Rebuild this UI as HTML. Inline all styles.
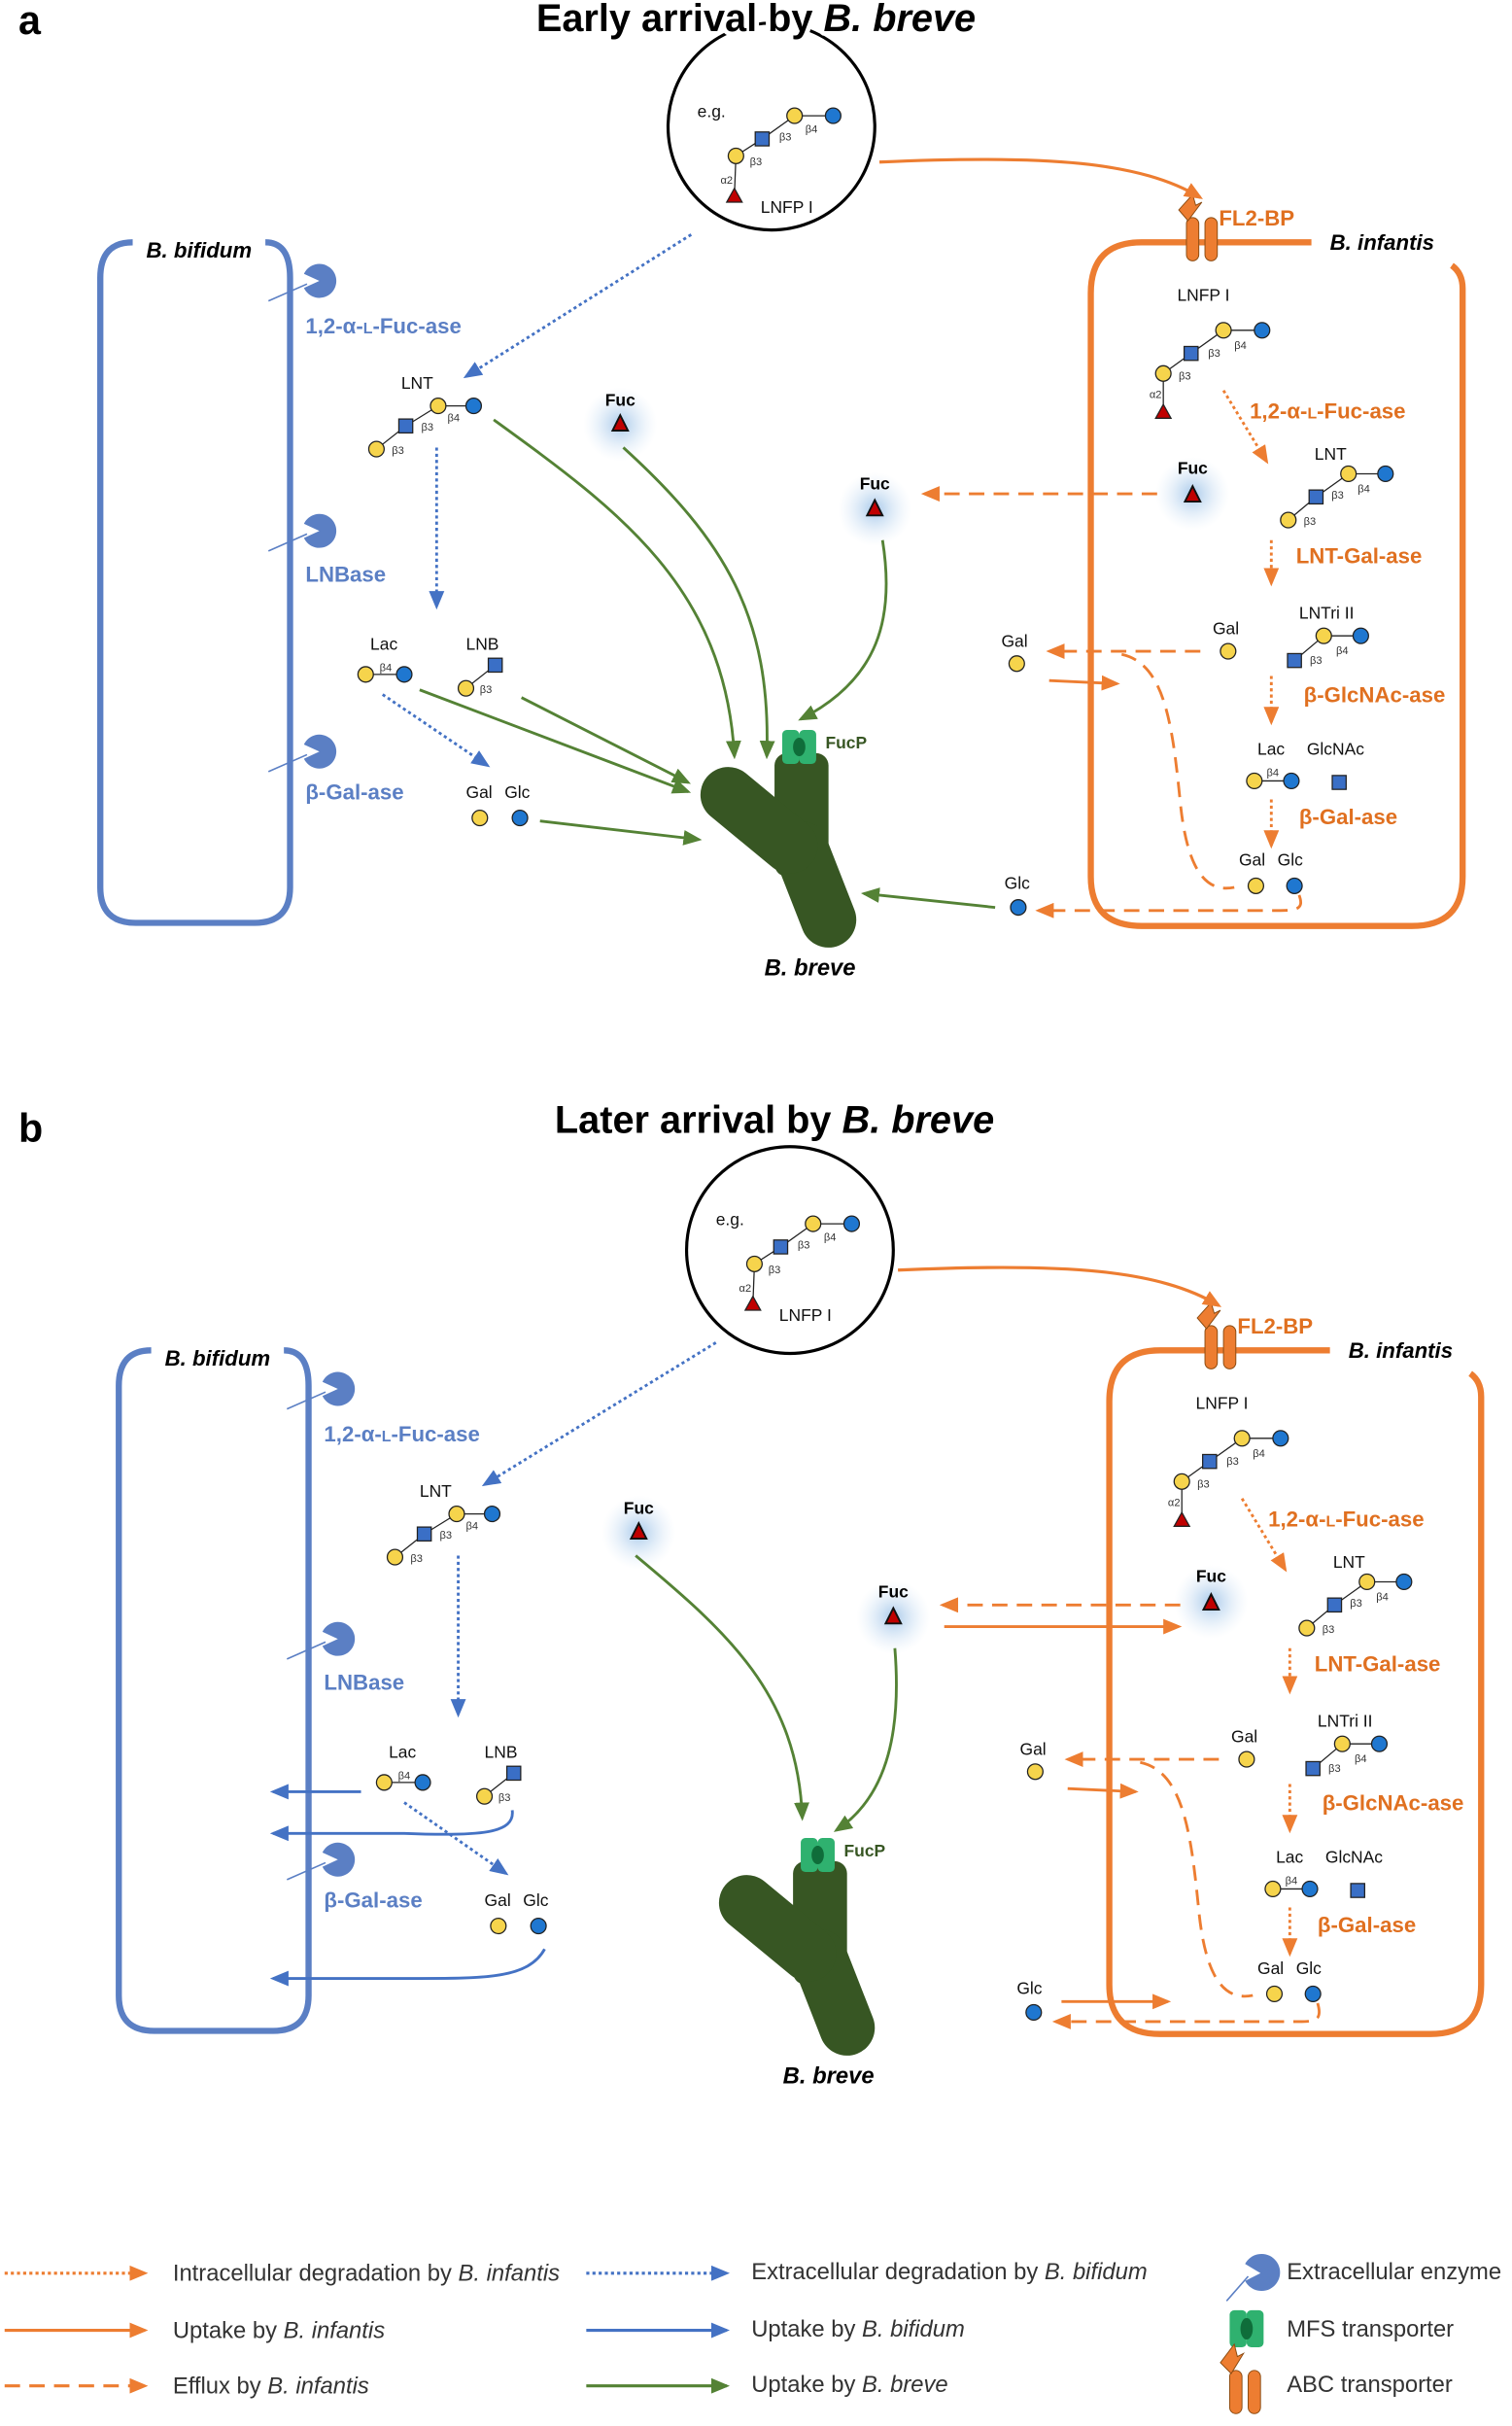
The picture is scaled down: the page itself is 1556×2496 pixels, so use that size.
<!DOCTYPE html>
<html><head><meta charset="utf-8"><style>
html,body{margin:0;padding:0;background:#fff}
svg{display:block}
text{font-family:"Liberation Sans",sans-serif}
.g{font-size:11px;fill:#111}
.b{font-size:7px;fill:#333}
.eb{font-size:14px;font-weight:bold;fill:#5b7fc4}
.eo{font-size:14px;font-weight:bold;fill:#e07020}
.lg{font-size:15px;fill:#333}
.tt{paint-order:stroke;stroke:#fff;stroke-width:6px;stroke-linejoin:round}
</style></head><body>
<svg width="1556" height="2496" viewBox="0 0 980 1572" xmlns="http://www.w3.org/2000/svg">
<defs>
<marker id="mo" markerWidth="12" markerHeight="10" refX="10" refY="5" orient="auto" markerUnits="userSpaceOnUse"><path d="M0,0 L12,5 L0,10 Z" fill="#ed7d31"/></marker>
<marker id="mb" markerWidth="12" markerHeight="10" refX="10" refY="5" orient="auto" markerUnits="userSpaceOnUse"><path d="M0,0 L12,5 L0,10 Z" fill="#4472c4"/></marker>
<marker id="mg" markerWidth="12" markerHeight="10" refX="10" refY="5" orient="auto" markerUnits="userSpaceOnUse"><path d="M0,0 L12,5 L0,10 Z" fill="#548235"/></marker>
<radialGradient id="glow"><stop offset="0" stop-color="#9ec3e8" stop-opacity=".9"/><stop offset="1" stop-color="#dbe9f7" stop-opacity="0"/></radialGradient>
</defs>

<!-- ===================== PANEL A ===================== -->
<g id="pa">
<circle cx="500" cy="82" r="67" fill="#fff" stroke="#000" stroke-width="2"/>
<text x="452" y="76" class="g">e.g.</text>
<g stroke="#222" stroke-width=".8"><line x1="540" y1="75" x2="515" y2="75"/><line x1="515" y1="75" x2="494" y2="90"/><line x1="494" y1="90" x2="477" y2="101"/><line x1="477" y1="101" x2="476" y2="127"/></g>
<circle cx="540" cy="75" r="5" fill="#1f77d0" stroke="#222" stroke-width=".8"/>
<circle cx="515" cy="75" r="5" fill="#f6d44c" stroke="#222" stroke-width=".8"/>
<rect x="489.5" y="85.5" width="9" height="9" fill="#3a6fc6" stroke="#222" stroke-width=".8"/>
<circle cx="477" cy="101" r="5" fill="#f6d44c" stroke="#222" stroke-width=".8"/>
<polygon points="476,122 481,131 471,131" fill="#c00000" stroke="#222" stroke-width=".8"/>
<text x="522" y="86" class="b">β4</text><text x="505" y="91" class="b">β3</text><text x="486" y="107" class="b">β3</text><text x="467" y="119" class="b">α2</text>
<text x="493" y="138" class="g">LNFP I</text>

<path d="M172,157 Q188,157 188,180 L188,575 Q188,598 165,598 L88,598 Q65,598 65,575 L65,180 Q65,157 86,157" fill="none" stroke="#5b7fc4" stroke-width="4"/>
<text x="129" y="167" text-anchor="middle" font-size="14" font-weight="bold" font-style="italic">B. bifidum</text>
<g fill="#5b7fc4">
<path d="M207,182 L197,186.6 A11 11 0 1 0 197,177.4 Z"/>
<path d="M207,344 L197,348.6 A11 11 0 1 0 197,339.4 Z"/>
<path d="M207,487 L197,491.6 A11 11 0 1 0 197,482.4 Z"/>
</g>
<g stroke="#5b7fc4" stroke-width="1"><line x1="199" y1="184" x2="174" y2="195"/><line x1="199" y1="346" x2="174" y2="357"/><line x1="199" y1="489" x2="174" y2="500"/></g>
<text x="198" y="216" class="eb">1,2-α-<tspan font-size="10">L</tspan>-Fuc-ase</text>
<text x="198" y="377" class="eb">LNBase</text>
<text x="198" y="518" class="eb">β-Gal-ase</text>

<text x="260" y="252" class="g">LNT</text>
<g stroke="#222" stroke-width=".8"><line x1="307" y1="263" x2="284" y2="263"/><line x1="284" y1="263" x2="263" y2="276"/><line x1="263" y1="276" x2="244" y2="291"/></g>
<circle cx="307" cy="263" r="5" fill="#1f77d0" stroke="#222" stroke-width=".8"/>
<circle cx="284" cy="263" r="5" fill="#f6d44c" stroke="#222" stroke-width=".8"/>
<rect x="258.5" y="271.5" width="9" height="9" fill="#3a6fc6" stroke="#222" stroke-width=".8"/>
<circle cx="244" cy="291" r="5" fill="#f6d44c" stroke="#222" stroke-width=".8"/>
<text x="290" y="273" class="b">β4</text><text x="273" y="279" class="b">β3</text><text x="254" y="294" class="b">β3</text>
<text x="240" y="421" class="g">Lac</text>
<line x1="237" y1="437" x2="262" y2="437" stroke="#222" stroke-width=".8"/>
<circle cx="237" cy="437" r="5" fill="#f6d44c" stroke="#222" stroke-width=".8"/>
<circle cx="262" cy="437" r="5" fill="#1f77d0" stroke="#222" stroke-width=".8"/>
<text x="246" y="435" class="b">β4</text>
<text x="302" y="421" class="g">LNB</text>
<line x1="321" y1="431" x2="302" y2="446" stroke="#222" stroke-width=".8"/>
<rect x="316.5" y="426.5" width="9" height="9" fill="#3a6fc6" stroke="#222" stroke-width=".8"/>
<circle cx="302" cy="446" r="5" fill="#f6d44c" stroke="#222" stroke-width=".8"/>
<text x="311" y="449" class="b">β3</text>
<text x="302" y="517" class="g">Gal</text><text x="327" y="517" class="g">Glc</text>
<circle cx="311" cy="530" r="5" fill="#f6d44c" stroke="#222" stroke-width=".8"/>
<circle cx="337" cy="530" r="5" fill="#1f77d0" stroke="#222" stroke-width=".8"/>

<g stroke="#4472c4" stroke-width="1.8" stroke-dasharray="2,2" fill="none">
<line x1="448" y1="152" x2="302" y2="244" marker-end="url(#mb)"/>
<line x1="283" y1="290" x2="283" y2="393" marker-end="url(#mb)"/>
<line x1="248" y1="450" x2="316" y2="496" marker-end="url(#mb)"/>
</g>

<circle cx="402" cy="275" r="24" fill="url(#glow)"/>
<circle cx="567" cy="330" r="24" fill="url(#glow)"/>
<circle cx="773" cy="320" r="24" fill="url(#glow)"/>
<text x="402" y="263" text-anchor="middle" font-size="11" font-weight="bold">Fuc</text>
<polygon points="402,269 407,279 397,279" fill="#c00000" stroke="#111" stroke-width="1.2"/>
<text x="567" y="317" text-anchor="middle" font-size="11" font-weight="bold">Fuc</text>
<polygon points="567,324 572,334 562,334" fill="#c00000" stroke="#111" stroke-width="1.2"/>
<text x="773" y="307" text-anchor="middle" font-size="11" font-weight="bold">Fuc</text>
<polygon points="773,315 778,325 768,325" fill="#c00000" stroke="#111" stroke-width="1.2"/>

<g fill="#375623" stroke="#375623" stroke-linecap="round" stroke-linejoin="round">
<rect x="502" y="488" width="35" height="80" rx="8" stroke="none"/>
<path d="M519,550 L537,596" stroke-width="36" fill="none"/>
<path d="M472,515 L512,548" stroke-width="36" fill="none"/>
</g>
<rect x="507" y="473" width="11" height="22" rx="3" fill="#2fb16f"/>
<rect x="518" y="473" width="11" height="22" rx="3" fill="#2fb16f"/>
<ellipse cx="518" cy="484" rx="4" ry="6" fill="#0f6d3a"/>
<text x="535" y="485" font-size="11" font-weight="bold" fill="#375623">FucP</text>
<text x="525" y="632" text-anchor="middle" font-size="15" font-weight="bold" font-style="italic">B. breve</text>

<path d="M850,157 L740,157 Q707,157 707,190 L707,568 Q707,600 740,600 L915,600 Q948,600 948,568 L948,187 Q948,177 941,172" fill="none" stroke="#ed7d31" stroke-width="4"/>
<text x="862" y="162" font-size="14" font-weight="bold" font-style="italic">B. infantis</text>
<rect x="769" y="141" width="8" height="28" rx="4" fill="#ed7d31" stroke="#8a4a10" stroke-width=".6"/>
<rect x="781" y="141" width="8" height="28" rx="4" fill="#ed7d31" stroke="#8a4a10" stroke-width=".6"/>
<path d="M770,143 L764,136 L773,126 L775,133 L779,131 Z" fill="#ed7d31" stroke="#8a4a10" stroke-width=".6"/>
<text x="790" y="146" font-size="14" font-weight="bold" fill="#e07020">FL2-BP</text>
<path d="M570,105 C680,100 740,105 778,128" fill="none" stroke="#ed7d31" stroke-width="2" marker-end="url(#mo)"/>

<text x="763" y="195" class="g">LNFP I</text>
<g stroke="#222" stroke-width=".8"><line x1="818" y1="214" x2="793" y2="214"/><line x1="793" y1="214" x2="772" y2="229"/><line x1="772" y1="229" x2="754" y2="242"/><line x1="754" y1="242" x2="754" y2="266"/></g>
<circle cx="818" cy="214" r="5" fill="#1f77d0" stroke="#222" stroke-width=".8"/>
<circle cx="793" cy="214" r="5" fill="#f6d44c" stroke="#222" stroke-width=".8"/>
<rect x="767.5" y="224.5" width="9" height="9" fill="#3a6fc6" stroke="#222" stroke-width=".8"/>
<circle cx="754" cy="242" r="5" fill="#f6d44c" stroke="#222" stroke-width=".8"/>
<polygon points="754,262 759,271 749,271" fill="#c00000" stroke="#222" stroke-width=".8"/>
<text x="800" y="226" class="b">β4</text><text x="783" y="231" class="b">β3</text><text x="764" y="246" class="b">β3</text><text x="745" y="258" class="b">α2</text>
<text x="810" y="271" class="eo">1,2-α-<tspan font-size="10">L</tspan>-Fuc-ase</text>
<text x="852" y="298" class="g">LNT</text>
<g stroke="#222" stroke-width=".8"><line x1="898" y1="307" x2="874" y2="307"/><line x1="874" y1="307" x2="853" y2="322"/><line x1="853" y1="322" x2="835" y2="337"/></g>
<circle cx="898" cy="307" r="5" fill="#1f77d0" stroke="#222" stroke-width=".8"/>
<circle cx="874" cy="307" r="5" fill="#f6d44c" stroke="#222" stroke-width=".8"/>
<rect x="848.5" y="317.5" width="9" height="9" fill="#3a6fc6" stroke="#222" stroke-width=".8"/>
<circle cx="835" cy="337" r="5" fill="#f6d44c" stroke="#222" stroke-width=".8"/>
<text x="880" y="319" class="b">β4</text><text x="863" y="323" class="b">β3</text><text x="845" y="340" class="b">β3</text>
<text x="840" y="365" class="eo">LNT-Gal-ase</text>
<text x="786" y="411" class="g">Gal</text>
<circle cx="796" cy="422" r="5" fill="#f6d44c" stroke="#222" stroke-width=".8"/>
<text x="842" y="401" class="g">LNTri II</text>
<g stroke="#222" stroke-width=".8"><line x1="882" y1="412" x2="858" y2="412"/><line x1="858" y1="412" x2="839" y2="428"/></g>
<circle cx="882" cy="412" r="5" fill="#1f77d0" stroke="#222" stroke-width=".8"/>
<circle cx="858" cy="412" r="5" fill="#f6d44c" stroke="#222" stroke-width=".8"/>
<rect x="834.5" y="423.5" width="9" height="9" fill="#3a6fc6" stroke="#222" stroke-width=".8"/>
<text x="866" y="424" class="b">β4</text><text x="849" y="430" class="b">β3</text>
<text x="845" y="455" class="eo">β-GlcNAc-ase</text>
<text x="815" y="489" class="g">Lac</text><text x="847" y="489" class="g">GlcNAc</text>
<line x1="813" y1="506" x2="837" y2="506" stroke="#222" stroke-width=".8"/>
<circle cx="813" cy="506" r="5" fill="#f6d44c" stroke="#222" stroke-width=".8"/>
<circle cx="837" cy="506" r="5" fill="#1f77d0" stroke="#222" stroke-width=".8"/>
<text x="821" y="503" class="b">β4</text>
<rect x="863.5" y="502.5" width="9" height="9" fill="#3a6fc6" stroke="#222" stroke-width=".8"/>
<text x="842" y="534" class="eo">β-Gal-ase</text>
<text x="803" y="561" class="g">Gal</text><text x="828" y="561" class="g">Glc</text>
<circle cx="814" cy="574" r="5" fill="#f6d44c" stroke="#222" stroke-width=".8"/>
<circle cx="839" cy="574" r="5" fill="#1f77d0" stroke="#222" stroke-width=".8"/>
<g stroke="#ed7d31" stroke-width="1.8" stroke-dasharray="2,2" fill="none">
<line x1="793" y1="253" x2="821" y2="299" marker-end="url(#mo)"/>
<line x1="824" y1="350" x2="824" y2="378" marker-end="url(#mo)"/>
<line x1="824" y1="438" x2="824" y2="468" marker-end="url(#mo)"/>
<line x1="824" y1="518" x2="824" y2="548" marker-end="url(#mo)"/>
</g>
<text x="649" y="419" class="g">Gal</text>
<circle cx="659" cy="430" r="5" fill="#f6d44c" stroke="#222" stroke-width=".8"/>
<g stroke="#ed7d31" stroke-width="1.8" fill="none">
<line x1="778" y1="422" x2="680" y2="422" stroke-dasharray="10,6" marker-end="url(#mo)"/>
<line x1="680" y1="441" x2="724" y2="443" marker-end="url(#mo)"/>
<path d="M727,424 C755,430 760,470 765,520 C770,570 785,578 800,575" stroke-dasharray="10,6"/>
</g>
</g>

<g stroke="#ed7d31" stroke-width="1.8" fill="none">
<line x1="750" y1="320" x2="599" y2="320" stroke-dasharray="10,6" marker-end="url(#mo)"/>
<path d="M842,580 C845,588 842,590 830,590 L673,590" stroke-dasharray="10,6" marker-end="url(#mo)"/>
</g>
<text x="651" y="576" class="g">Glc</text>
<circle cx="660" cy="588" r="5" fill="#1f77d0" stroke="#222" stroke-width=".8"/>
<g stroke="#548235" stroke-width="1.8" fill="none">
<path d="M320,272 C400,330 470,380 476,490" marker-end="url(#mg)"/>
<path d="M404,290 C470,350 500,400 497,490" marker-end="url(#mg)"/>
<path d="M572,350 C580,400 570,440 519,466" marker-end="url(#mg)"/>
<line x1="272" y1="447" x2="446" y2="513" marker-end="url(#mg)"/>
<line x1="338" y1="452" x2="446" y2="507" marker-end="url(#mg)"/>
<line x1="350" y1="532" x2="453" y2="544" marker-end="url(#mg)"/>
<line x1="645" y1="588" x2="560" y2="579" marker-end="url(#mg)"/>
</g>

<!-- ===================== PANEL B ===================== -->
<g transform="translate(12,718)">
<circle cx="500" cy="92" r="67" fill="#fff" stroke="#000" stroke-width="2"/>
<text x="452" y="76" class="g">e.g.</text>
<g stroke="#222" stroke-width=".8"><line x1="540" y1="75" x2="515" y2="75"/><line x1="515" y1="75" x2="494" y2="90"/><line x1="494" y1="90" x2="477" y2="101"/><line x1="477" y1="101" x2="476" y2="127"/></g>
<circle cx="540" cy="75" r="5" fill="#1f77d0" stroke="#222" stroke-width=".8"/>
<circle cx="515" cy="75" r="5" fill="#f6d44c" stroke="#222" stroke-width=".8"/>
<rect x="489.5" y="85.5" width="9" height="9" fill="#3a6fc6" stroke="#222" stroke-width=".8"/>
<circle cx="477" cy="101" r="5" fill="#f6d44c" stroke="#222" stroke-width=".8"/>
<polygon points="476,122 481,131 471,131" fill="#c00000" stroke="#222" stroke-width=".8"/>
<text x="522" y="86" class="b">β4</text><text x="505" y="91" class="b">β3</text><text x="486" y="107" class="b">β3</text><text x="467" y="119" class="b">α2</text>
<text x="493" y="138" class="g">LNFP I</text>

<path d="M172,157 Q188,157 188,180 L188,575 Q188,598 165,598 L88,598 Q65,598 65,575 L65,180 Q65,157 86,157" fill="none" stroke="#5b7fc4" stroke-width="4"/>
<text x="129" y="167" text-anchor="middle" font-size="14" font-weight="bold" font-style="italic">B. bifidum</text>
<g fill="#5b7fc4">
<path d="M207,182 L197,186.6 A11 11 0 1 0 197,177.4 Z"/>
<path d="M207,344 L197,348.6 A11 11 0 1 0 197,339.4 Z"/>
<path d="M207,487 L197,491.6 A11 11 0 1 0 197,482.4 Z"/>
</g>
<g stroke="#5b7fc4" stroke-width="1"><line x1="199" y1="184" x2="174" y2="195"/><line x1="199" y1="346" x2="174" y2="357"/><line x1="199" y1="489" x2="174" y2="500"/></g>
<text x="198" y="216" class="eb">1,2-α-<tspan font-size="10">L</tspan>-Fuc-ase</text>
<text x="198" y="377" class="eb">LNBase</text>
<text x="198" y="518" class="eb">β-Gal-ase</text>

<text x="260" y="252" class="g">LNT</text>
<g stroke="#222" stroke-width=".8"><line x1="307" y1="263" x2="284" y2="263"/><line x1="284" y1="263" x2="263" y2="276"/><line x1="263" y1="276" x2="244" y2="291"/></g>
<circle cx="307" cy="263" r="5" fill="#1f77d0" stroke="#222" stroke-width=".8"/>
<circle cx="284" cy="263" r="5" fill="#f6d44c" stroke="#222" stroke-width=".8"/>
<rect x="258.5" y="271.5" width="9" height="9" fill="#3a6fc6" stroke="#222" stroke-width=".8"/>
<circle cx="244" cy="291" r="5" fill="#f6d44c" stroke="#222" stroke-width=".8"/>
<text x="290" y="273" class="b">β4</text><text x="273" y="279" class="b">β3</text><text x="254" y="294" class="b">β3</text>
<text x="240" y="421" class="g">Lac</text>
<line x1="237" y1="437" x2="262" y2="437" stroke="#222" stroke-width=".8"/>
<circle cx="237" cy="437" r="5" fill="#f6d44c" stroke="#222" stroke-width=".8"/>
<circle cx="262" cy="437" r="5" fill="#1f77d0" stroke="#222" stroke-width=".8"/>
<text x="246" y="435" class="b">β4</text>
<text x="302" y="421" class="g">LNB</text>
<line x1="321" y1="431" x2="302" y2="446" stroke="#222" stroke-width=".8"/>
<rect x="316.5" y="426.5" width="9" height="9" fill="#3a6fc6" stroke="#222" stroke-width=".8"/>
<circle cx="302" cy="446" r="5" fill="#f6d44c" stroke="#222" stroke-width=".8"/>
<text x="311" y="449" class="b">β3</text>
<text x="302" y="517" class="g">Gal</text><text x="327" y="517" class="g">Glc</text>
<circle cx="311" cy="530" r="5" fill="#f6d44c" stroke="#222" stroke-width=".8"/>
<circle cx="337" cy="530" r="5" fill="#1f77d0" stroke="#222" stroke-width=".8"/>
<g stroke="#4472c4" stroke-width="1.8" stroke-dasharray="2,2" fill="none">
<line x1="452" y1="152" x2="302" y2="244" marker-end="url(#mb)"/>
<line x1="285" y1="290" x2="285" y2="393" marker-end="url(#mb)"/>
<line x1="250" y1="450" x2="316" y2="496" marker-end="url(#mb)"/>
</g>
<g stroke="#4472c4" stroke-width="1.8" fill="none">
<line x1="222" y1="443" x2="165" y2="443" marker-end="url(#mb)"/>
<path d="M320,455 C322,470 300,472 250,470 L165,470" marker-end="url(#mb)"/>
<path d="M341,545 C330,565 300,564 250,564 L165,564" marker-end="url(#mb)"/>
</g>

<circle cx="402" cy="275" r="24" fill="url(#glow)"/>
<circle cx="567" cy="330" r="24" fill="url(#glow)"/>
<circle cx="773" cy="320" r="24" fill="url(#glow)"/>
<text x="402" y="263" text-anchor="middle" font-size="11" font-weight="bold">Fuc</text>
<polygon points="402,269 407,279 397,279" fill="#c00000" stroke="#111" stroke-width="1.2"/>
<text x="567" y="317" text-anchor="middle" font-size="11" font-weight="bold">Fuc</text>
<polygon points="567,324 572,334 562,334" fill="#c00000" stroke="#111" stroke-width="1.2"/>
<text x="773" y="307" text-anchor="middle" font-size="11" font-weight="bold">Fuc</text>
<polygon points="773,315 778,325 768,325" fill="#c00000" stroke="#111" stroke-width="1.2"/>

<g fill="#375623" stroke="#375623" stroke-linecap="round" stroke-linejoin="round">
<rect x="502" y="488" width="35" height="80" rx="8" stroke="none"/>
<path d="M519,550 L537,596" stroke-width="36" fill="none"/>
<path d="M472,515 L512,548" stroke-width="36" fill="none"/>
</g>
<rect x="507" y="473" width="11" height="22" rx="3" fill="#2fb16f"/>
<rect x="518" y="473" width="11" height="22" rx="3" fill="#2fb16f"/>
<ellipse cx="518" cy="484" rx="4" ry="6" fill="#0f6d3a"/>
<text x="535" y="485" font-size="11" font-weight="bold" fill="#375623">FucP</text>
<text x="525" y="632" text-anchor="middle" font-size="15" font-weight="bold" font-style="italic">B. breve</text>
<g stroke="#548235" stroke-width="1.8" fill="none">
<path d="M400,290 C460,340 505,380 508,460" marker-end="url(#mg)"/>
<path d="M568,350 C572,400 565,445 530,468" marker-end="url(#mg)"/>
</g>

<path d="M850,157 L740,157 Q707,157 707,190 L707,568 Q707,600 740,600 L915,600 Q948,600 948,568 L948,187 Q948,177 941,172" fill="none" stroke="#ed7d31" stroke-width="4"/>
<text x="862" y="162" font-size="14" font-weight="bold" font-style="italic">B. infantis</text>
<rect x="769" y="141" width="8" height="28" rx="4" fill="#ed7d31" stroke="#8a4a10" stroke-width=".6"/>
<rect x="781" y="141" width="8" height="28" rx="4" fill="#ed7d31" stroke="#8a4a10" stroke-width=".6"/>
<path d="M770,143 L764,136 L773,126 L775,133 L779,131 Z" fill="#ed7d31" stroke="#8a4a10" stroke-width=".6"/>
<text x="790" y="146" font-size="14" font-weight="bold" fill="#e07020">FL2-BP</text>
<path d="M570,105 C680,100 740,105 778,128" fill="none" stroke="#ed7d31" stroke-width="2" marker-end="url(#mo)"/>

<text x="763" y="195" class="g">LNFP I</text>
<g stroke="#222" stroke-width=".8"><line x1="818" y1="214" x2="793" y2="214"/><line x1="793" y1="214" x2="772" y2="229"/><line x1="772" y1="229" x2="754" y2="242"/><line x1="754" y1="242" x2="754" y2="266"/></g>
<circle cx="818" cy="214" r="5" fill="#1f77d0" stroke="#222" stroke-width=".8"/>
<circle cx="793" cy="214" r="5" fill="#f6d44c" stroke="#222" stroke-width=".8"/>
<rect x="767.5" y="224.5" width="9" height="9" fill="#3a6fc6" stroke="#222" stroke-width=".8"/>
<circle cx="754" cy="242" r="5" fill="#f6d44c" stroke="#222" stroke-width=".8"/>
<polygon points="754,262 759,271 749,271" fill="#c00000" stroke="#222" stroke-width=".8"/>
<text x="800" y="226" class="b">β4</text><text x="783" y="231" class="b">β3</text><text x="764" y="246" class="b">β3</text><text x="745" y="258" class="b">α2</text>
<text x="810" y="271" class="eo">1,2-α-<tspan font-size="10">L</tspan>-Fuc-ase</text>
<text x="852" y="298" class="g">LNT</text>
<g stroke="#222" stroke-width=".8"><line x1="898" y1="307" x2="874" y2="307"/><line x1="874" y1="307" x2="853" y2="322"/><line x1="853" y1="322" x2="835" y2="337"/></g>
<circle cx="898" cy="307" r="5" fill="#1f77d0" stroke="#222" stroke-width=".8"/>
<circle cx="874" cy="307" r="5" fill="#f6d44c" stroke="#222" stroke-width=".8"/>
<rect x="848.5" y="317.5" width="9" height="9" fill="#3a6fc6" stroke="#222" stroke-width=".8"/>
<circle cx="835" cy="337" r="5" fill="#f6d44c" stroke="#222" stroke-width=".8"/>
<text x="880" y="319" class="b">β4</text><text x="863" y="323" class="b">β3</text><text x="845" y="340" class="b">β3</text>
<text x="840" y="365" class="eo">LNT-Gal-ase</text>
<text x="786" y="411" class="g">Gal</text>
<circle cx="796" cy="422" r="5" fill="#f6d44c" stroke="#222" stroke-width=".8"/>
<text x="842" y="401" class="g">LNTri II</text>
<g stroke="#222" stroke-width=".8"><line x1="882" y1="412" x2="858" y2="412"/><line x1="858" y1="412" x2="839" y2="428"/></g>
<circle cx="882" cy="412" r="5" fill="#1f77d0" stroke="#222" stroke-width=".8"/>
<circle cx="858" cy="412" r="5" fill="#f6d44c" stroke="#222" stroke-width=".8"/>
<rect x="834.5" y="423.5" width="9" height="9" fill="#3a6fc6" stroke="#222" stroke-width=".8"/>
<text x="866" y="424" class="b">β4</text><text x="849" y="430" class="b">β3</text>
<text x="845" y="455" class="eo">β-GlcNAc-ase</text>
<text x="815" y="489" class="g">Lac</text><text x="847" y="489" class="g">GlcNAc</text>
<line x1="813" y1="506" x2="837" y2="506" stroke="#222" stroke-width=".8"/>
<circle cx="813" cy="506" r="5" fill="#f6d44c" stroke="#222" stroke-width=".8"/>
<circle cx="837" cy="506" r="5" fill="#1f77d0" stroke="#222" stroke-width=".8"/>
<text x="821" y="503" class="b">β4</text>
<rect x="863.5" y="502.5" width="9" height="9" fill="#3a6fc6" stroke="#222" stroke-width=".8"/>
<text x="842" y="534" class="eo">β-Gal-ase</text>
<text x="803" y="561" class="g">Gal</text><text x="828" y="561" class="g">Glc</text>
<circle cx="814" cy="574" r="5" fill="#f6d44c" stroke="#222" stroke-width=".8"/>
<circle cx="839" cy="574" r="5" fill="#1f77d0" stroke="#222" stroke-width=".8"/>
<g stroke="#ed7d31" stroke-width="1.8" stroke-dasharray="2,2" fill="none">
<line x1="793" y1="253" x2="821" y2="299" marker-end="url(#mo)"/>
<line x1="824" y1="350" x2="824" y2="378" marker-end="url(#mo)"/>
<line x1="824" y1="438" x2="824" y2="468" marker-end="url(#mo)"/>
<line x1="824" y1="518" x2="824" y2="548" marker-end="url(#mo)"/>
</g>
<text x="649" y="419" class="g">Gal</text>
<circle cx="659" cy="430" r="5" fill="#f6d44c" stroke="#222" stroke-width=".8"/>
<g stroke="#ed7d31" stroke-width="1.8" fill="none">
<line x1="778" y1="422" x2="680" y2="422" stroke-dasharray="10,6" marker-end="url(#mo)"/>
<line x1="680" y1="441" x2="724" y2="443" marker-end="url(#mo)"/>
<path d="M727,424 C755,430 760,470 765,520 C770,570 785,578 800,575" stroke-dasharray="10,6"/>
<line x1="753" y1="322" x2="599" y2="322" stroke-dasharray="10,6" marker-end="url(#mo)"/>
<line x1="600" y1="336" x2="752" y2="336" marker-end="url(#mo)"/>
<line x1="676" y1="579" x2="745" y2="579" marker-end="url(#mo)"/>
<path d="M842,580 C845,590 842,592 830,592 L672,592" stroke-dasharray="10,6" marker-end="url(#mo)"/>
</g>
<text x="647" y="574" class="g">Glc</text>
<circle cx="658" cy="586" r="5" fill="#1f77d0" stroke="#222" stroke-width=".8"/>
</g>

<!-- Titles (drawn last) -->
<text x="12" y="22" font-size="26" font-weight="bold">a</text>
<text x="490" y="20" font-size="25" font-weight="bold" text-anchor="middle" class="tt">Early arrival by <tspan font-style="italic">B. breve</tspan></text>
<text x="12" y="740" font-size="26" font-weight="bold">b</text>
<text x="502" y="734" font-size="25" font-weight="bold" text-anchor="middle" class="tt">Later arrival by <tspan font-style="italic">B. breve</tspan></text>

<!-- ===================== LEGEND ===================== -->
<g stroke-width="2" fill="none">
<line x1="3" y1="1473" x2="94" y2="1473" stroke="#ed7d31" stroke-dasharray="2,2" marker-end="url(#mo)"/>
<line x1="3" y1="1510" x2="94" y2="1510" stroke="#ed7d31" marker-end="url(#mo)"/>
<line x1="3" y1="1546" x2="94" y2="1546" stroke="#ed7d31" stroke-dasharray="10,6" marker-end="url(#mo)"/>
<line x1="380" y1="1473" x2="471" y2="1473" stroke="#4472c4" stroke-dasharray="2,2" marker-end="url(#mb)"/>
<line x1="380" y1="1510" x2="471" y2="1510" stroke="#4472c4" marker-end="url(#mb)"/>
<line x1="380" y1="1546" x2="471" y2="1546" stroke="#548235" marker-end="url(#mg)"/>
</g>
<text x="112" y="1478" class="lg">Intracellular degradation by <tspan font-style="italic">B. infantis</tspan></text>
<text x="112" y="1515" class="lg">Uptake by <tspan font-style="italic">B. infantis</tspan></text>
<text x="112" y="1551" class="lg">Efflux by <tspan font-style="italic">B. infantis</tspan></text>
<text x="487" y="1477" class="lg">Extracellular degradation by <tspan font-style="italic">B. bifidum</tspan></text>
<text x="487" y="1514" class="lg">Uptake by <tspan font-style="italic">B. bifidum</tspan></text>
<text x="487" y="1550" class="lg">Uptake by <tspan font-style="italic">B. breve</tspan></text>
<path d="M817,1473 L807,1478 A12 12 0 1 0 807,1467 Z" fill="#5b7fc4"/>
<line x1="809" y1="1475" x2="795" y2="1491" stroke="#5b7fc4" stroke-width="1"/>
<text x="834" y="1477" class="lg">Extracellular enzyme</text>
<rect x="797" y="1497" width="11" height="24" rx="3" fill="#2fb16f"/>
<rect x="808" y="1497" width="11" height="24" rx="3" fill="#2fb16f"/>
<ellipse cx="808" cy="1509" rx="4" ry="7" fill="#0f6d3a"/>
<text x="834" y="1514" class="lg">MFS transporter</text>
<rect x="797" y="1536" width="8" height="28" rx="4" fill="#ed7d31" stroke="#8a4a10" stroke-width=".6"/>
<rect x="809" y="1536" width="8" height="28" rx="4" fill="#ed7d31" stroke="#8a4a10" stroke-width=".6"/>
<path d="M798,1538 L791,1531 L800,1519 L802,1527 L806,1525 Z" fill="#ed7d31" stroke="#8a4a10" stroke-width=".6"/>
<text x="834" y="1550" class="lg">ABC transporter</text>
</svg>
</body></html>
